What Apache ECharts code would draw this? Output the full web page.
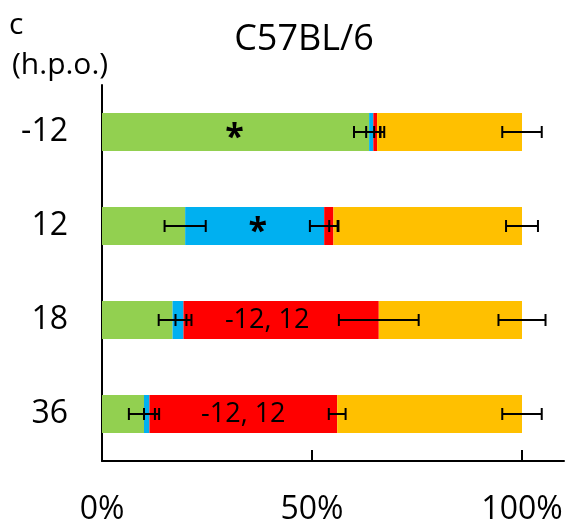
<!DOCTYPE html>
<html>
<head>
<meta charset="utf-8">
<script src="https://cdn.jsdelivr.net/npm/echarts@6/dist/echarts.min.js"></script>
<style>html,body{margin:0;padding:0;background:#fff;}#c{width:569px;height:531px;}</style>
</head>
<body>
<div id="c"></div>
<script>
// Categories (hours post operation)
var categories = ['-12', '12', '18', '36'];
// Stacked percentages per segment
var greenVals  = [63.6, 19.8, 16.8, 10.0];
var blueVals   = [1.0, 33.1, 2.6, 1.3];
var redVals    = [0.9, 2.2, 46.5, 44.7];
var orangeVals = [34.5, 44.9, 34.1, 44.0];
// Error (+/-) at the end of each segment
var greenErr  = [3.6, 4.9, 3.3, 3.6];
var blueErr   = [1.7, 3.4, 1.9, 1.3];
var redErr    = [0.7, 1.0, 9.5, 2.0];
var orangeErr = [4.7, 3.8, 5.6, 4.7];
// Significance notes shown in segments
var greenNotes = ['*', '', '', ''];
var blueNotes  = ['', '*', '', ''];
var redNotes   = ['', '', '-12, 12', '-12, 12'];
// Axis ticks
var xTicks = [0, 50, 100];

var FONT = 'Open Sans';
var colors = ['#92D050', '#00B0F0', '#FF0000', '#FFC000'];
var segVals = [greenVals, blueVals, redVals, orangeVals];
var segErrs = [greenErr, blueErr, redErr, orangeErr];
var segNotes = [greenNotes, blueNotes, redNotes, null];
var names = ['green', 'blue', 'red', 'orange'];

function noteLabel(txt, i) {
  if (!txt) return {show: false};
  if (txt === '*') {
    return {show: true, position: 'inside', formatter: txt, color: '#000',
      fontFamily: FONT, fontWeight: 'bold', fontSize: 34, offset: [i === 1 ? 3 : -1, 6]};
  }
  return {show: true, position: 'inside', formatter: txt, color: '#000',
    fontFamily: FONT, fontSize: 27, offset: [i === 2 ? -14 : 0, 0]};
}

var series = [];
segVals.forEach(function (vals, s) {
  series.push({
    name: names[s], type: 'bar', stack: 'total', barWidth: 38,
    itemStyle: {color: colors[s]},
    data: vals.map(function (v, i) {
      var note = segNotes[s] ? segNotes[s][i] : '';
      return {value: v, label: noteLabel(note, i)};
    }),
    z: 2
  });
});

// error bar data built from cumulative stacked values
var errData = [];
for (var i = 0; i < categories.length; i++) {
  var cum = 0;
  for (var s = 0; s < segVals.length; s++) {
    cum += segVals[s][i];
    errData.push([cum, i, segErrs[s][i]]);
  }
}
series.push({
  type: 'custom', z: 10,
  encode: {x: 0, y: 1},
  data: errData,
  renderItem: function (params, api) {
    var v = api.value(0), c = api.value(1), e = api.value(2);
    var l = api.coord([v - e, c]);
    var r = api.coord([v + e, c]);
    var h = 6;
    var st = {stroke: '#000', lineWidth: 2};
    return {type: 'group', children: [
      {type: 'line', shape: {x1: l[0], y1: l[1], x2: r[0], y2: r[1]}, style: st},
      {type: 'line', shape: {x1: l[0], y1: l[1] - h, x2: l[0], y2: l[1] + h}, style: st},
      {type: 'line', shape: {x1: r[0], y1: r[1] - h, x2: r[0], y2: r[1] + h}, style: st}
    ]};
  }
});

var chart = echarts.init(document.getElementById('c'));
chart.setOption({
  animation: false,
  backgroundColor: '#fff',
  grid: {left: 102, right: 5, top: 85, bottom: 70, containLabel: false},
  xAxis: {
    type: 'value', min: 0, max: 110, interval: 50,
    splitLine: {show: false},
    axisLine: {show: true, lineStyle: {color: '#000', width: 2}},
    axisTick: {show: true, inside: true, length: 11, customValues: xTicks, lineStyle: {color: '#000', width: 2}},
    axisLabel: {customValues: xTicks, formatter: '{value}%', color: '#000', fontFamily: FONT, fontSize: 32, margin: 33}
  },
  yAxis: {
    type: 'category', inverse: true, data: categories,
    axisLine: {show: true, lineStyle: {color: '#000', width: 2}},
    axisTick: {show: false},
    axisLabel: {color: '#000', fontFamily: FONT, fontSize: 32, margin: 34}
  },
  graphic: [
    {type: 'text', left: 9, top: 10, style: {text: 'c', font: '30px "Open Sans"', fill: '#000'}},
    {type: 'text', left: 12, top: 50, style: {text: '(h.p.o.)', font: '30px "Open Sans"', fill: '#000'}},
    {type: 'text', x: 304, y: 40, style: {text: 'C57BL/6', font: '36px "Open Sans"', fill: '#000', align: 'center', verticalAlign: 'middle'}}
  ],
  series: series
});
</script>
</body>
</html>
